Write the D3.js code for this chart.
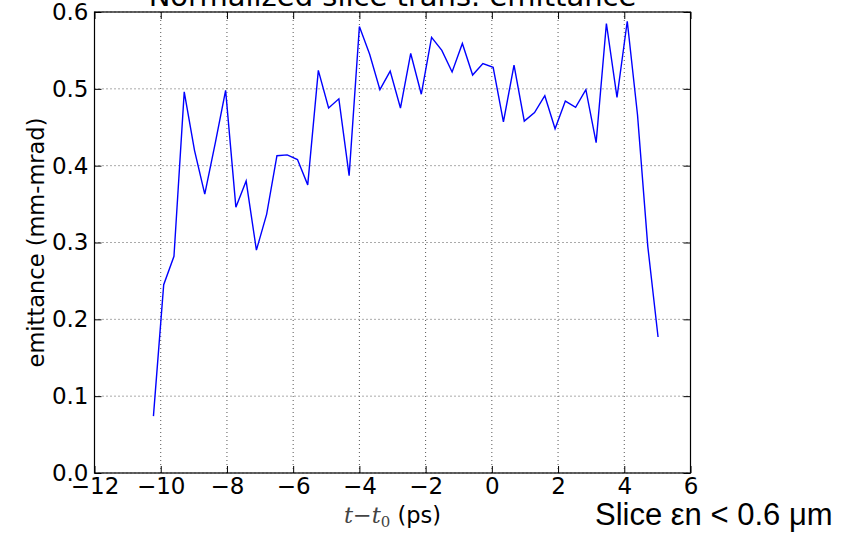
<!DOCTYPE html>
<html>
<head>
<meta charset="utf-8">
<script src="https://cdn.jsdelivr.net/npm/d3@7"></script>
<style>
  html, body { margin: 0; padding: 0; background: #fff; }
  svg { display: block; }
</style>
</head>
<body>
<div id="chart"></div>
<script>
// slice times (ps)
const times = [
    -10.22, -9.91, -9.60, -9.29, -8.98, -8.67, -8.35, -8.04, -7.73, -7.42,
    -7.11, -6.80, -6.49, -6.18, -5.87, -5.56, -5.24, -4.93, -4.62, -4.31,
    -4.00, -3.69, -3.38, -3.07, -2.76, -2.45, -2.13, -1.82, -1.51, -1.20,
    -0.89, -0.58, -0.27, 0.04, 0.35, 0.67, 0.98, 1.29, 1.60, 1.91,
    2.22, 2.53, 2.84, 3.15, 3.46, 3.78, 4.09, 4.40, 4.71, 5.02
];
// normalized slice emittance (mm-mrad)
const emittance = [
    0.074, 0.245, 0.282, 0.496, 0.420, 0.363, 0.430, 0.498, 0.346, 0.380,
    0.290, 0.337, 0.413, 0.414, 0.408, 0.375, 0.524, 0.475, 0.487, 0.387,
    0.581, 0.545, 0.499, 0.523, 0.475, 0.546, 0.493, 0.567, 0.550, 0.522,
    0.559, 0.518, 0.533, 0.528, 0.457, 0.531, 0.458, 0.469, 0.491, 0.448,
    0.484, 0.476, 0.499, 0.430, 0.585, 0.489, 0.588, 0.466, 0.295, 0.177
];
const xTicks = [-12, -10, -8, -6, -4, -2, 0, 2, 4, 6];
const yTicks = [0.0, 0.1, 0.2, 0.3, 0.4, 0.5, 0.6];

const title = 'Normalized slice trans. emittance';
const yLabel = 'emittance (mm-mrad)';
const note = 'Slice εn < 0.6 μm';

const width = 859, height = 536;
const margin = { top: 12, right: 168.5, bottom: 63, left: 94.5 };
const tickFont = '"DejaVu Sans", sans-serif';

const svg = d3.select('#chart').append('svg')
    .attr('width', width)
    .attr('height', height);

svg.append('rect')
    .attr('width', width)
    .attr('height', height)
    .attr('fill', '#fff');

const x = d3.scaleLinear()
    .domain([-12, 6])
    .range([margin.left, width - margin.right]);

const y = d3.scaleLinear()
    .domain([0, 0.6])
    .range([height - margin.bottom, margin.top]);

// grid (dotted)
const grid = svg.append('g').attr('class', 'grid');
grid.selectAll('line.gx')
    .data(xTicks)
    .join('line')
    .attr('class', 'gx')
    .attr('x1', d => x(d)).attr('x2', d => x(d))
    .attr('y1', y(0)).attr('y2', y(0.6))
    .attr('stroke', '#555')
    .attr('stroke-width', 1)
    .attr('stroke-dasharray', '1,3');
grid.selectAll('line.gy')
    .data(yTicks)
    .join('line')
    .attr('class', 'gy')
    .attr('x1', x(-12)).attr('x2', x(6))
    .attr('y1', d => y(d)).attr('y2', d => y(d))
    .attr('stroke', '#555')
    .attr('stroke-width', 1)
    .attr('stroke-dasharray', '1,3');

// data line
const points = times.map((t, i) => ({ t: t, e: emittance[i] }));
const line = d3.line()
    .x(d => x(d.t))
    .y(d => y(d.e));

svg.append('path')
    .datum(points)
    .attr('fill', 'none')
    .attr('stroke', '#0000ff')
    .attr('stroke-width', 1.4)
    .attr('stroke-linejoin', 'miter')
    .attr('d', line);

// axes, ticks pointing inward on all four sides
function styleAxis(g) {
    g.select('.domain').remove();
    g.selectAll('.tick line').attr('stroke', '#000').attr('stroke-width', 1);
    g.selectAll('.tick text')
        .attr('fill', '#000')
        .style('font-family', tickFont)
        .style('font-size', '23px');
}

svg.append('g')
    .attr('transform', `translate(0,${y(0)})`)
    .call(d3.axisBottom(x).tickValues(xTicks).tickSizeInner(-7).tickSizeOuter(0).tickPadding(5)
        .tickFormat(d3.format('d')))
    .call(styleAxis);

svg.append('g')
    .attr('transform', `translate(${x(-12)},0)`)
    .call(d3.axisLeft(y).tickValues(yTicks).tickSizeInner(-7).tickSizeOuter(0).tickPadding(6)
        .tickFormat(d3.format('.1f')))
    .call(styleAxis);

svg.append('g')
    .attr('transform', `translate(0,${y(0.6)})`)
    .call(d3.axisTop(x).tickValues(xTicks).tickSizeInner(-7).tickSizeOuter(0).tickFormat(''))
    .call(styleAxis);

svg.append('g')
    .attr('transform', `translate(${x(6)},0)`)
    .call(d3.axisRight(y).tickValues(yTicks).tickSizeInner(-7).tickSizeOuter(0).tickFormat(''))
    .call(styleAxis);

// frame
svg.append('rect')
    .attr('x', x(-12))
    .attr('y', y(0.6))
    .attr('width', x(6) - x(-12))
    .attr('height', y(0) - y(0.6))
    .attr('fill', 'none')
    .attr('stroke', '#000')
    .attr('stroke-width', 1.2);

// title (cut off by the top edge, as in the original)
svg.append('text')
    .attr('x', (x(-12) + x(6)) / 2)
    .attr('y', 5.5)
    .attr('text-anchor', 'middle')
    .style('font-family', tickFont)
    .style('font-size', '29px')
    .attr('fill', '#000')
    .text(title);

// y label
svg.append('text')
    .attr('transform', `translate(43.5,${(y(0) + y(0.6)) / 2}) rotate(-90)`)
    .attr('text-anchor', 'middle')
    .style('font-family', tickFont)
    .style('font-size', '22.5px')
    .attr('fill', '#000')
    .text(yLabel);

// x label: t−t0 (ps)
const xl = svg.append('text')
    .attr('x', (x(-12) + x(6)) / 2)
    .attr('y', 523)
    .attr('text-anchor', 'middle')
    .style('font-family', tickFont)
    .style('font-size', '22.5px')
    .attr('fill', '#000');
xl.append('tspan')
    .style('font-family', '"DejaVu Serif", serif')
    .style('font-style', 'italic')
    .attr('fill', '#444')
    .text('t−t');
xl.append('tspan')
    .style('font-family', '"DejaVu Serif", serif')
    .style('font-size', '15px')
    .attr('fill', '#444')
    .attr('dy', 4)
    .text('0');
xl.append('tspan')
    .attr('dy', -4)
    .text(' (ps)');

// annotation
svg.append('text')
    .attr('x', 595)
    .attr('y', 525)
    .style('font-family', '"Liberation Sans", Arial, sans-serif')
    .style('font-size', '31px')
    .attr('fill', '#000')
    .text(note);
</script>
</body>
</html>
